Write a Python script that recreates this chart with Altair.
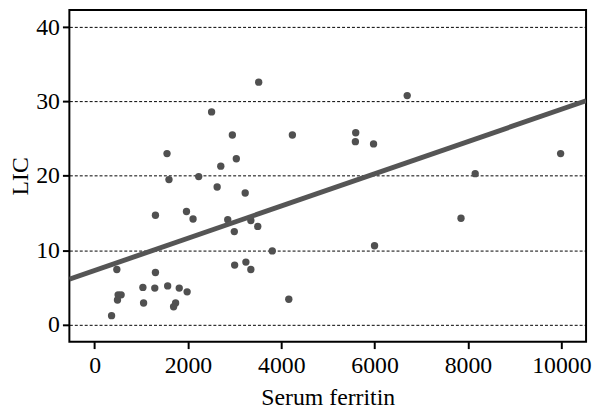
import altair as alt
import pandas as pd

ferritin = [3516, 2507, 2952, 4238, 1552, 1594, 2231, 2704, 3037, 2626, 3227,
            1304, 1969, 2110, 2853, 2994, 3348, 3496, 3807, 477, 1304, 3001,
            3242, 3348, 1035, 1290, 1566, 1814, 1983, 505, 569, 491, 1050,
            1736, 1693, 364, 4161,
            6698, 5595, 5588, 5977, 9985, 8155, 7851, 5998]
lic = [32.6, 28.6, 25.5, 25.5, 23.0, 19.5, 19.9, 21.3, 22.3, 18.5, 17.7,
       14.7, 15.2, 14.2, 14.1, 12.5, 14.0, 13.2, 9.9, 7.4, 7.0, 8.0,
       8.4, 7.4, 5.0, 4.9, 5.2, 4.9, 4.4, 4.0, 4.0, 3.3, 2.9,
       2.9, 2.4, 1.2, 3.4,
       30.8, 25.8, 24.6, 24.3, 23.0, 20.3, 14.3, 10.6]

x_domain = [-540, 10530]
y_domain = [-2.3, 42.3]
fit_intercept = 7.27
fit_slope = 0.002168
x_ticks = [0, 2000, 4000, 6000, 8000, 10000]
y_ticks = [0, 10, 20, 30, 40]

pts = pd.DataFrame({"ferritin": ferritin, "lic": lic})
fit = pd.DataFrame({"ferritin": x_domain,
                    "lic": [fit_intercept + fit_slope * v for v in x_domain]})

xs = alt.Scale(domain=x_domain, nice=False, zero=False)
ys = alt.Scale(domain=y_domain, nice=False, zero=False)

xax = alt.Axis(values=x_ticks, title="Serum ferritin", grid=False, format="d")
yax = alt.Axis(values=y_ticks, title="LIC", grid=True, gridDash=[3, 2],
               gridColor="black", gridWidth=1, gridOpacity=1)

points = alt.Chart(pts).mark_circle(size=55, color="#505050", opacity=1).encode(
    x=alt.X("ferritin:Q", scale=xs, axis=xax),
    y=alt.Y("lic:Q", scale=ys, axis=yax),
)

line = alt.Chart(fit).mark_line(color="#555555", strokeWidth=5, clip=True).encode(
    x=alt.X("ferritin:Q", scale=xs),
    y=alt.Y("lic:Q", scale=ys),
)

FONT = "Liberation Serif"

chart = alt.layer(points, line).properties(
    width=522, height=335,
    padding={"left": 62, "top": 0, "right": 6, "bottom": 70},
    autosize=alt.AutoSizeParams(type="none"),
).configure_view(
    stroke="black", strokeWidth=2
).configure_axis(
    labelFont=FONT, titleFont=FONT,
    labelFontSize=24, titleFontSize=24, labelColor="black", titleColor="black",
    titleFontWeight="normal", domain=False,
    tickColor="black", tickWidth=2, tickSize=7,
).configure_axisX(
    labelPadding=5, titlePadding=8,
).configure_axisY(
    labelPadding=3, titlePadding=3,
)

chart.save("out.html", embed_options={"renderer": "svg", "actions": False})
